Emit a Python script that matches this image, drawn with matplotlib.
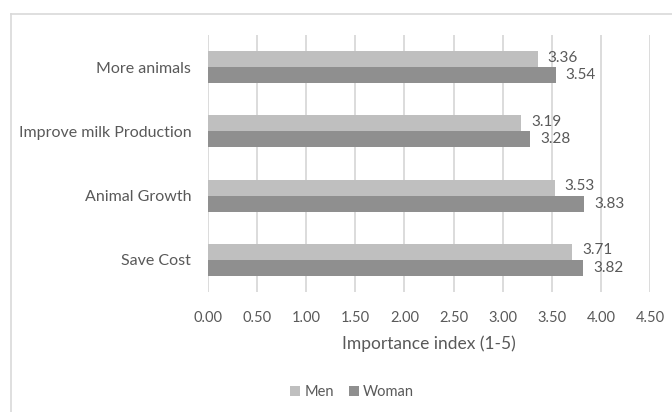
import matplotlib
matplotlib.use("Agg")
import matplotlib.pyplot as plt
import numpy as np
from matplotlib.patches import Patch
from matplotlib.lines import Line2D

categories = ["Save Cost", "Animal Growth", "Improve milk Production", "More animals"]
men = [3.71, 3.53, 3.19, 3.36]
woman = [3.82, 3.83, 3.28, 3.54]
xticks = [0.0, 0.5, 1.0, 1.5, 2.0, 2.5, 3.0, 3.5, 4.0, 4.5]

plt.rcParams['font.family'] = ['Lato', 'DejaVu Sans']
TXT = '#595959'
C_MEN = '#BFBFBF'
C_WOM = '#8F8F8F'
GRID = '#D9D9D9'

fig = plt.figure(figsize=(6.72, 4.12), dpi=100)
ax = fig.add_axes([208/672, 1-292/412, (650-208)/672, (292-35)/412])

y = np.arange(len(categories))
h = 0.25
ax.barh(y + h/2, men, height=h, color=C_MEN, label='Men', zorder=3)
ax.barh(y - h/2, woman, height=h, color=C_WOM, label='Woman', zorder=3)

for yi, v in zip(y, men):
    ax.annotate(f"{v:.2f}", (v, yi + h/2), xytext=(7, 1), textcoords='offset points',
                ha='left', va='center', fontsize=11, color=TXT)
for yi, v in zip(y, woman):
    ax.annotate(f"{v:.2f}", (v, yi - h/2), xytext=(7, 0), textcoords='offset points',
                ha='left', va='center', fontsize=11, color=TXT)

ax.set_xlim(0, 4.5)
ax.set_ylim(-0.5, 3.5)
ax.set_xticks(xticks)
ax.set_xticklabels([f"{t:.2f}" for t in xticks], fontsize=10.5, color=TXT)
ax.set_yticks(y)
ax.set_yticklabels(categories, fontsize=11.5, color=TXT)
ax.tick_params(axis='both', length=0)
ax.tick_params(axis='y', pad=12)
ax.tick_params(axis='x', pad=14)
ax.grid(axis='x', color=GRID, linewidth=1.3, zorder=0)
for s in ax.spines.values():
    s.set_visible(False)
ax.set_xlabel("Importance index (1-5)", fontsize=12.5, color=TXT, labelpad=7)

handles = [Patch(facecolor=C_MEN, label='Men'), Patch(facecolor=C_WOM, label='Woman')]
fig.legend(handles=handles, loc='center', bbox_to_anchor=(352/672, 1-392/412), ncol=2,
           frameon=False, fontsize=10.5, labelcolor=TXT, handlelength=0.7, handleheight=0.7,
           handletextpad=0.3, columnspacing=1.0)

# chart border (top and left visible)
fig.add_artist(Line2D([10.5/672, 1], [1-14/412, 1-14/412], color='#D9D9D9', linewidth=1.2,
                      transform=fig.transFigure))
fig.add_artist(Line2D([10.5/672, 10.5/672], [0, 1-14/412], color='#D9D9D9', linewidth=1.2,
                      transform=fig.transFigure))

fig.savefig("out.png", dpi=100)
